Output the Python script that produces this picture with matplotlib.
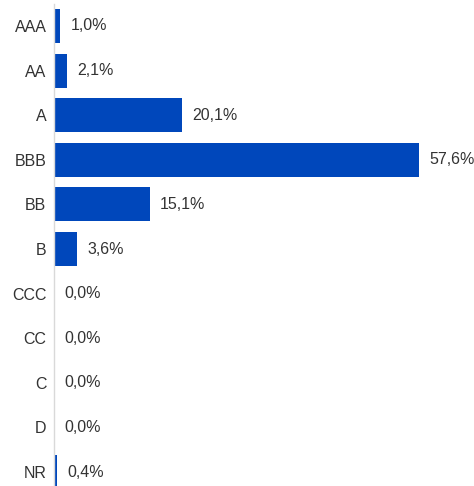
import matplotlib.pyplot as plt

plt.rcParams['font.family'] = ['Liberation Sans', 'DejaVu Sans']

ratings = ['AAA', 'AA', 'A', 'BBB', 'BB', 'B', 'CCC', 'CC', 'C', 'D', 'NR']
pesos = [1.0, 2.1, 20.1, 57.6, 15.1, 3.6, 0.0, 0.0, 0.0, 0.0, 0.4]

cor_barra = '#0047bb'
cor_texto = '#333333'

fig = plt.figure(figsize=(4.74, 4.86), dpi=100)
ax = fig.add_axes([54 / 474, 1 - 494.3 / 486, 420 / 474, 490.6 / 486])

y = list(range(len(ratings)))
ax.barh(y, pesos, height=0.76, color=cor_barra)

# rótulos de valor à direita de cada barra
for yi, v in zip(y, pesos):
    rotulo = f'{v:.1f}%'.replace('.', ',')
    ax.annotate(rotulo, (v, yi), xytext=(7.5, 0), textcoords='offset points',
                va='center', ha='left', fontsize=11.5, color=cor_texto)

ax.set_xlim(0, 66.2)
ax.set_ylim(len(ratings) - 0.5, -0.5)
ax.set_yticks(y)
ax.set_yticklabels(ratings, fontsize=11.5, color=cor_texto)
ax.tick_params(axis='y', length=0, pad=5.5)
ax.set_xticks([])

for lado in ['top', 'right', 'bottom']:
    ax.spines[lado].set_visible(False)
ax.spines['left'].set_color('#d9d9d9')
ax.spines['left'].set_linewidth(1)

fig.savefig('out.png', dpi=100)
